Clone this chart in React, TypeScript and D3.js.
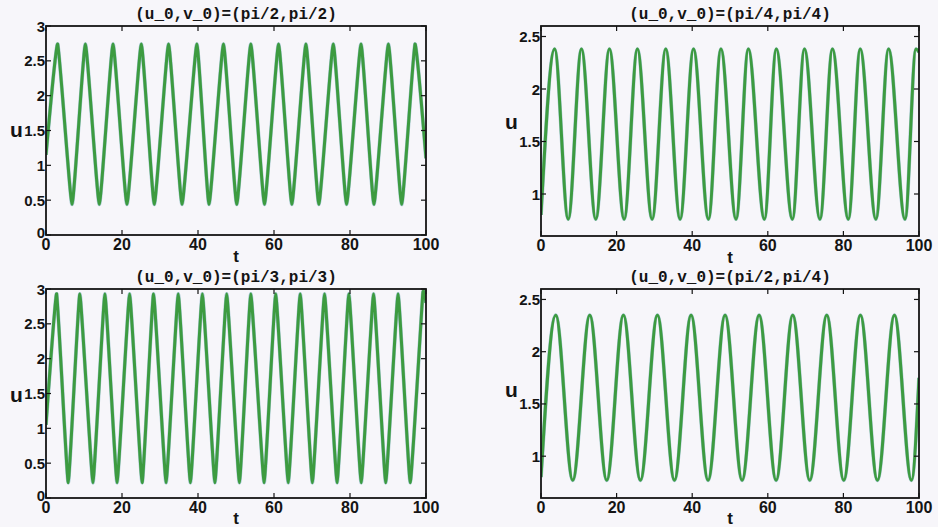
import React from "react";
import * as d3 from "d3";

const W = 938;
const H = 527;

// ---------- data ----------
const tTicks = [0, 20, 40, 60, 80, 100];
const uTicksFull = [0, 0.5, 1, 1.5, 2, 2.5, 3];
const uTicksNarrow = [1, 1.5, 2, 2.5];

const titles = [
  "(u_0,v_0)=(pi/2,pi/2)",
  "(u_0,v_0)=(pi/4,pi/4)",
  "(u_0,v_0)=(pi/3,pi/3)",
  "(u_0,v_0)=(pi/2,pi/4)",
];

// panel 1 : (pi/2, pi/2)
const p1Peaks = [3.08, 10.36, 17.64, 25.08, 32.25, 39.7, 46.7, 53.9, 61.2, 68.4, 75.6, 82.9, 90.1, 97.1];
const p1Troughs = [6.86, 14.03, 21.3, 28.5, 35.8, 42.9, 50.2, 57.5, 64.7, 71.8, 79.1, 86.3, 93.6];
const p1PeakU = 2.74;
const p1TroughU = 0.44;
const p1Start = 1.15;
const p1End = 1.1;

// panel 2 : (pi/4, pi/4)
const p2Peaks = [3.6, 10.7, 18.1, 25.5, 33.0, 40.35, 47.6, 54.85, 62.25, 69.7, 77.1, 84.45, 91.95, 99.2];
const p2Troughs = [7.2, 14.5, 22.0, 29.4, 36.8, 44.3, 51.6, 59.1, 66.5, 73.8, 81.3, 88.6, 96.3];
const p2PeakU = 2.38;
const p2TroughU = 0.76;
const p2Start = 0.8;
const p2End = 2.35;

// panel 3 : (pi/3, pi/3)
const p3Peaks = [2.8, 8.9, 15.5, 22.0, 28.3, 34.8, 41.15, 47.55, 53.9, 60.45, 66.9, 73.3, 79.7, 86.2, 92.65, 99.15];
const p3Troughs = [5.85, 12.35, 18.7, 25.3, 31.6, 38.0, 44.45, 50.9, 57.4, 63.75, 70.1, 76.6, 82.95, 89.4, 95.85];
const p3PeakU = 2.93;
const p3TroughU = 0.22;
const p3Start = 1.05;
const p3End = 2.8;

// panel 4 : (pi/2, pi/4)
const p4Peaks = [3.9, 12.9, 21.8, 30.8, 39.7, 48.7, 57.7, 66.6, 75.6, 84.5, 93.5];
const p4Troughs = [8.4, 17.4, 26.3, 35.3, 44.2, 53.2, 62.2, 71.1, 80.1, 89.0, 98.0];
const p4PeakU = 2.35;
const p4TroughU = 0.77;
const p4Start = 0.8;
const p4End = 1.75;

type Pt = { t: number; u: number };

function buildSeries(
  peaks: number[],
  troughs: number[],
  peakU: number,
  troughU: number,
  start: number,
  end: number
): Pt[] {
  const pts: Pt[] = [{ t: 0, u: start }];
  peaks.forEach((t) => pts.push({ t, u: peakU }));
  troughs.forEach((t) => pts.push({ t, u: troughU }));
  pts.push({ t: 100, u: end });
  pts.sort((a, b) => a.t - b.t);
  return pts;
}

const series = [
  buildSeries(p1Peaks, p1Troughs, p1PeakU, p1TroughU, p1Start, p1End),
  buildSeries(p2Peaks, p2Troughs, p2PeakU, p2TroughU, p2Start, p2End),
  buildSeries(p3Peaks, p3Troughs, p3PeakU, p3TroughU, p3Start, p3End),
  buildSeries(p4Peaks, p4Troughs, p4PeakU, p4TroughU, p4Start, p4End),
];

// ---------- layout ----------
const layouts = [
  { x0: 46, x1: 426, y0: 26, y1: 235, dom: [0, 3], ticks: uTicksFull, curve: d3.curveCardinal.tension(0.6), uX: 10, uY: 137 },
  { x0: 541, x1: 919, y0: 26, y1: 236, dom: [0.6, 2.6], ticks: uTicksNarrow, curve: d3.curveMonotoneX, uX: 505, uY: 129 },
  { x0: 46, x1: 426, y0: 289, y1: 498, dom: [0, 3], ticks: uTicksFull, curve: d3.curveCardinal.tension(0.68), uX: 10, uY: 402 },
  { x0: 541, x1: 919, y0: 289, y1: 498, dom: [0.6, 2.6], ticks: uTicksNarrow, curve: d3.curveMonotoneX, uX: 505, uY: 397 },
];

const SANS = "'Liberation Sans', Arial, Helvetica, sans-serif";
const MONO = "'Liberation Mono', 'Courier New', monospace";
const GREEN = "#3d9b40";
const INK = "#141414";
const TICK = 5;

function Panel({ i }: { i: number }) {
  const L = layouts[i];
  const x = d3.scaleLinear().domain([0, 100]).range([L.x0, L.x1]);
  const y = d3.scaleLinear().domain(L.dom).range([L.y1, L.y0]);
  const line = d3
    .line<Pt>()
    .x((d) => x(d.t))
    .y((d) => y(d.u))
    .curve(L.curve);
  const clipId = `clip${i}`;
  const midX = (L.x0 + L.x1) / 2;
  const d = line(series[i]) || "";
  return (
    <g>
      <defs>
        <clipPath id={clipId}>
          <rect x={L.x0} y={L.y0} width={L.x1 - L.x0} height={L.y1 - L.y0} />
        </clipPath>
      </defs>
      <g clipPath={`url(#${clipId})`}>
        <path d={d} fill="none" stroke="#4f9aa8" strokeWidth={3.8} strokeOpacity={0.5} strokeLinejoin="round" />
        <path d={d} fill="none" stroke={GREEN} strokeWidth={3.0} strokeLinejoin="round" />
      </g>
      {tTicks.map((t) => (
        <g key={`xt${t}`}>
          <line x1={x(t)} x2={x(t)} y1={L.y1} y2={L.y1 - TICK} stroke={INK} strokeWidth={1.2} />
          <line x1={x(t)} x2={x(t)} y1={L.y0} y2={L.y0 + TICK} stroke={INK} strokeWidth={1.2} />
          <text x={x(t)} y={L.y1 + 15} textAnchor="middle" fontFamily={SANS} fontWeight="bold" fontSize={16} fill={INK}>
            {t}
          </text>
        </g>
      ))}
      {L.ticks.map((u) => (
        <g key={`yt${u}`}>
          <line x1={L.x0} x2={L.x0 + TICK} y1={y(u)} y2={y(u)} stroke={INK} strokeWidth={1.2} />
          <line x1={L.x1} x2={L.x1 - TICK} y1={y(u)} y2={y(u)} stroke={INK} strokeWidth={1.2} />
          <text x={L.x0 - 1} y={y(u) + (u === 0 ? 3 : 5.5)} textAnchor="end" fontFamily={SANS} fontWeight="bold" fontSize={15} fill={INK}>
            {String(u)}
          </text>
        </g>
      ))}
      <rect x={L.x0} y={L.y0} width={L.x1 - L.x0} height={L.y1 - L.y0} fill="none" stroke={INK} strokeWidth={1.8} />
      <text x={midX} y={L.y0 - 7} textAnchor="middle" fontFamily={MONO} fontWeight="bold" fontSize={16} fill={INK}>
        {titles[i]}
      </text>
      <text x={midX} y={Math.min(L.y1 + 27, 524)} textAnchor="middle" fontFamily={SANS} fontWeight="bold" fontSize={17} fill={INK}>
        t
      </text>
      <text x={L.uX} y={L.uY} fontFamily={SANS} fontWeight="bold" fontSize={21} fill={INK}>
        u
      </text>
    </g>
  );
}

export default function App() {
  return (
    <svg width={W} height={H} viewBox={`0 0 ${W} ${H}`} style={{ position: "absolute", left: 0, top: 0, background: "#f7f6fa" }}>
      <rect x={0} y={0} width={W} height={H} fill="#f7f6fa" />
      {[0, 1, 2, 3].map((i) => (
        <Panel key={i} i={i} />
      ))}
    </svg>
  );
}
